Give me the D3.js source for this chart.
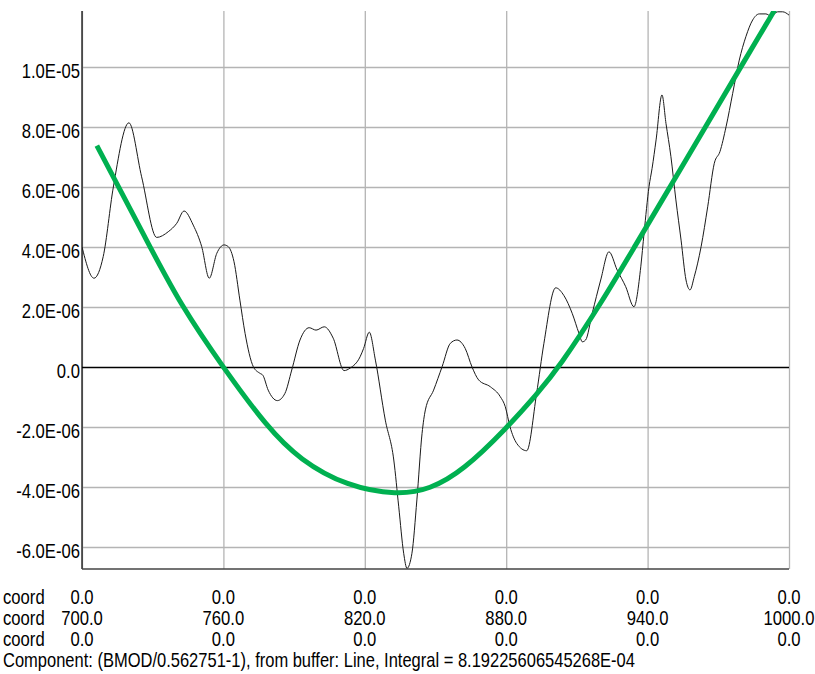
<!DOCTYPE html>
<html>
<head>
<meta charset="utf-8">
<script src="https://cdn.jsdelivr.net/npm/d3@7"></script>
<style>
  body { margin: 0; background: #fff; }
  svg { display: block; }
  text { font-family: "Liberation Sans", Arial, sans-serif; fill: #000; }
</style>
</head>
<body>
<svg id="chart" width="815" height="674"></svg>
<script>
// ---- data ----
const coordTicks = [700, 760, 820, 880, 940, 1000];
const coordRowA = ["0.0", "0.0", "0.0", "0.0", "0.0", "0.0"];
const coordRowB = ["700.0", "760.0", "820.0", "880.0", "940.0", "1000.0"];
const coordRowC = ["0.0", "0.0", "0.0", "0.0", "0.0", "0.0"];
const rowTitle = "coord";

const yTicks = [-6e-6, -4e-6, -2e-6, 0, 2e-6, 4e-6, 6e-6, 8e-6, 1e-5];
const yTickLabels = ["-6.0E-06", "-4.0E-06", "-2.0E-06", "0.0", "2.0E-06",
                     "4.0E-06", "6.0E-06", "8.0E-06", "1.0E-05"];

const footer = "Component: (BMOD/0.562751-1), from buffer: Line, Integral = 8.19225606545268E-04";

// measured component signal
const signalCoord = [700.0, 705.1, 709.0, 713.3, 719.9, 725.3, 731.7, 736.6, 740.2, 743.3,
  747.2, 750.8, 754.0, 757.2, 760.3, 762.1, 764.5, 767.0, 769.2, 772.7,
  775.5, 776.7, 779.0, 782.9, 786.1, 789.0, 792.5, 796.4, 799.3, 802.8,
  806.6, 811.2, 813.7, 818.0, 819.5, 821.9, 824.5, 828.7, 832.3, 834.4,
  836.5, 837.9, 840.0, 842.1, 844.3, 845.7, 849.2, 852.8, 856.3, 859.1,
  862.6, 865.5, 868.3, 873.3, 877.5, 879.6, 881.6, 884.5, 888.7, 892.9,
  896.0, 901.0, 904.5, 908.0, 910.9, 912.3, 913.7, 916.5, 920.1, 923.6,
  927.1, 930.7, 934.2, 937.1, 938.5, 940.6, 941.9, 943.6, 946.1, 947.8,
  949.9, 952.0, 954.2, 956.3, 958.0, 959.8, 962.7, 965.5, 968.3, 970.7,
  973.3, 976.1, 978.9, 981.7, 984.6, 987.4, 990.2, 992.3, 995.2, 997.3, 1000.0];
const signalValue = [4.00e-6, 2.96e-6, 3.68e-6, 6.00e-6, 8.14e-6, 6.34e-6, 4.32e-6, 4.51e-6, 4.79e-6, 5.20e-6,
  4.73e-6, 4.01e-6, 2.96e-6, 3.79e-6, 4.07e-6, 4.01e-6, 3.51e-6, 2.23e-6, 1.12e-6, 0.01e-6,
  -0.21e-6, -0.27e-6, -0.77e-6, -1.12e-6, -0.88e-6, -0.10e-6, 0.90e-6, 1.31e-6, 1.23e-6, 1.34e-6,
  0.96e-6, -0.12e-6, -0.04e-6, 0.34e-6, 0.62e-6, 1.16e-6, 0.23e-6, -1.77e-6, -3.10e-6, -4.66e-6,
  -6.21e-6, -6.71e-6, -6.21e-6, -4.43e-6, -2.21e-6, -1.43e-6, -0.77e-6, 0.01e-6, 0.79e-6, 0.90e-6,
  0.62e-6, 0.00e-6, -0.43e-6, -0.66e-6, -0.99e-6, -1.32e-6, -1.99e-6, -2.55e-6, -2.79e-6, -0.88e-6,
  0.79e-6, 2.64e-6, 2.38e-6, 1.79e-6, 1.12e-6, 0.84e-6, 0.90e-6, 1.79e-6, 2.90e-6, 3.84e-6,
  3.23e-6, 2.68e-6, 2.01e-6, 3.34e-6, 4.46e-6, 6.01e-6, 6.62e-6, 7.57e-6, 9.07e-6, 8.12e-6,
  7.01e-6, 5.57e-6, 4.23e-6, 2.90e-6, 2.57e-6, 3.01e-6, 4.01e-6, 5.34e-6, 6.79e-6, 7.18e-6,
  8.01e-6, 9.12e-6, 10.23e-6, 11.01e-6, 11.57e-6, 11.77e-6, 11.77e-6, 11.70e-6, 11.84e-6, 11.84e-6, 11.73e-6];

// fitted trend curve (B-spline control samples)
const fitCoord = [706.3, 728.1, 741.6, 760.0, 778.5, 792.5, 812.4, 834.0, 847.6, 861.6,
  880.3, 893.0, 902.4, 921.1, 934.4, 949.5, 964.5, 979.3, 993.9];
const fitValue = [7.38e-6, 4.12e-6, 2.10e-6, -0.03e-6, -2.00e-6, -3.10e-6, -3.98e-6, -4.27e-6, -4.08e-6, -3.46e-6,
  -2.03e-6, -0.90e-6, -0.02e-6, 2.23e-6, 4.00e-6, 6.00e-6, 8.00e-6, 9.97e-6, 11.90e-6];

// ---- layout ----
const plot = { left: 82, right: 789, top: 11, bottom: 569 };
const textScaleX = 0.833;

const svg = d3.select("#chart");

const x = d3.scaleLinear().domain([700, 1000]).range([plot.left, plot.right]);
const y = d3.scaleLinear().domain([-6.733e-6, 11.867e-6]).range([plot.bottom, plot.top]);

// gridlines
svg.append("g")
  .attr("transform", `translate(0,${plot.bottom})`)
  .call(d3.axisBottom(x).tickValues(coordTicks).tickSize(-(plot.bottom - plot.top)).tickFormat(""))
  .call(g => g.select(".domain").remove())
  .call(g => g.selectAll("line").attr("stroke", "#b4b4b4").attr("stroke-width", 1.3));

svg.append("g")
  .attr("transform", `translate(${plot.left},0)`)
  .call(d3.axisLeft(y).tickValues(yTicks).tickSize(-(plot.right - plot.left)).tickFormat(""))
  .call(g => g.select(".domain").remove())
  .call(g => g.selectAll("line")
    .attr("stroke", d => d === 0 ? "#000" : "#b4b4b4")
    .attr("stroke-width", d => d === 0 ? 1.5 : 1.3));

// axis frame: left and bottom
svg.append("line")
  .attr("x1", plot.left).attr("x2", plot.left)
  .attr("y1", plot.top).attr("y2", plot.bottom)
  .attr("stroke", "#000").attr("stroke-width", 1.2);
svg.append("line")
  .attr("x1", plot.left).attr("x2", plot.right)
  .attr("y1", plot.bottom).attr("y2", plot.bottom)
  .attr("stroke", "#444").attr("stroke-width", 1.5);

// clip for series
svg.append("clipPath").attr("id", "plotClip")
  .append("rect")
  .attr("x", plot.left).attr("y", plot.top)
  .attr("width", plot.right - plot.left).attr("height", plot.bottom - plot.top);

const series = svg.append("g").attr("clip-path", "url(#plotClip)");

const signal = d3.zip(signalCoord, signalValue);
series.append("path")
  .datum(signal)
  .attr("fill", "none")
  .attr("stroke", "#1a1a1a")
  .attr("stroke-width", 1)
  .attr("d", d3.line().x(d => x(d[0])).y(d => y(d[1])).curve(d3.curveMonotoneX));

// trend curve drawn as a smooth B-spline through its sample points
const fit = d3.zip(fitCoord, fitValue);
series.append("path")
  .datum(fit)
  .attr("fill", "none")
  .attr("stroke", "#00b050")
  .attr("stroke-width", 5)
  .attr("stroke-linecap", "butt")
  .attr("d", d3.line().x(d => x(d[0])).y(d => y(d[1])).curve(d3.curveBasis));

// y tick labels
svg.append("g").selectAll("text")
  .data(yTicks)
  .join("text")
  .attr("transform", (d) => `translate(80,${y(d) + 10.5}) scale(${textScaleX},1)`)
  .attr("text-anchor", "end")
  .attr("font-size", 20)
  .text((d, i) => yTickLabels[i]);

// coordinate rows below the plot
const rows = [coordRowA, coordRowB, coordRowC];
const rowBaselines = [604, 625, 646];
rows.forEach((labels, r) => {
  const g = svg.append("g");
  g.append("text")
    .attr("transform", `translate(3,${rowBaselines[r]}) scale(${textScaleX},1)`)
    .attr("font-size", 20)
    .text(rowTitle);
  g.selectAll("text.v")
    .data(coordTicks)
    .join("text")
    .attr("class", "v")
    .attr("transform", d => `translate(${x(d)},${rowBaselines[r]}) scale(${textScaleX},1)`)
    .attr("text-anchor", "middle")
    .attr("font-size", 20)
    .text((d, i) => labels[i]);
});

svg.append("text")
  .attr("transform", `translate(3,667) scale(0.825,1)`)
  .attr("font-size", 20)
  .text(footer);
</script>
</body>
</html>
